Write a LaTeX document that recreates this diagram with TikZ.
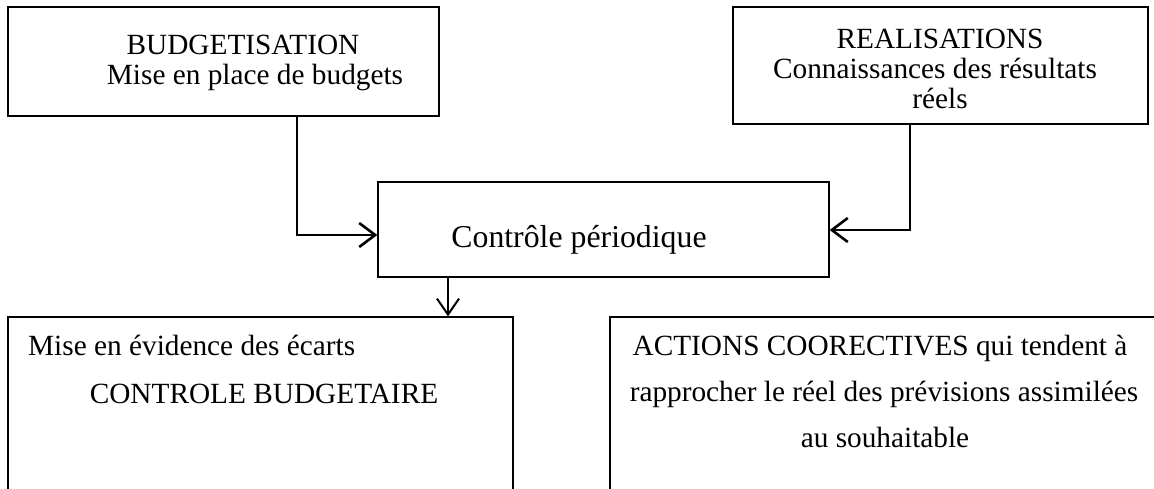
\documentclass[tikz,border=0pt]{standalone}
\usepackage{fontspec}
\setmainfont{Liberation Serif}
\usetikzlibrary{arrows.meta}
\tikzset{
  box/.style={draw, line width=1.2pt, inner sep=0pt, rectangle},
  txt/.style={font=\fontsize{29.3}{35}\selectfont, inner sep=0pt, anchor=base},
  bigtxt/.style={txt, font=\fontsize{31.8}{38}\selectfont},
  conn/.style={line width=2.8pt, line join=miter,
    -{Straight Barb[length=16pt,width=24pt,line width=2.6pt]}},
  downconn/.style={line width=2pt,
    -{Straight Barb[length=16pt,width=22pt,line width=2pt]}}
}
\begin{document}
\begin{tikzpicture}[x=1pt,y=-1pt]
\useasboundingbox (0,0) rectangle (1154,488);
\clip (0,0) rectangle (1154,488);

% frames
\node[box, minimum width=431pt, minimum height=109pt] (budget) at (223.5,61.5) {};
\node[box, minimum width=415pt, minimum height=117pt] (real) at (940.5,65.5) {};
\node[box, minimum width=451pt, minimum height=95pt] (ctrl) at (603.5,229.5) {};
\node[box, minimum width=505pt, minimum height=213pt] (ecarts) at (260.5,423.5) {};
\node[box, minimum width=570pt, minimum height=213pt] (actions) at (895,423.5) {};

% texts
\node[txt] (budget1) at (243,54) {BUDGETISATION};
\node[txt] (budget2) at (255,84) {Mise en place de budgets};
\node[txt] (real1) at (940,48) {REALISATIONS};
\node[txt] (real2) at (935,78) {Connaissances des résultats};
\node[txt] (real3) at (940,108) {réels};
\node[bigtxt] (ctrltxt) at (579,247) {Contrôle périodique};
\node[txt, anchor=base west] (ecarts1) at (28,355) {Mise en évidence des écarts};
\node[txt] (ecarts2) at (264,403) {CONTROLE BUDGETAIRE};
\node[txt] (act1) at (880,355) {ACTIONS COORECTIVES qui tendent à};
\node[txt] (act2) at (884,401) {rapprocher le réel des prévisions assimilées};
\node[txt] (act3) at (885,447) {au souhaitable};

% connectors
\coordinate (bstart) at (215,116);
\coordinate (bturn) at (297,116);
\draw[conn] (bstart) -- (bturn) |- (ctrl.west |- 0,235);

\coordinate (rstart) at (992,124);
\coordinate (rturn) at (910,124);
\draw[conn] (rstart) -- (rturn) |- (ctrl.east |- 0,230);

\draw[downconn] (ctrl.south -| 448,0) -- (ecarts.north -| 448,0);
\end{tikzpicture}
\end{document}
